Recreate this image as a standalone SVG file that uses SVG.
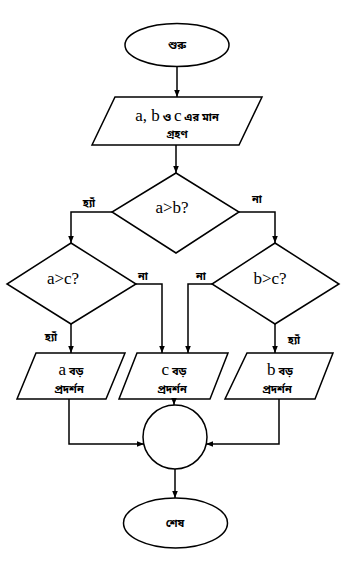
<svg xmlns="http://www.w3.org/2000/svg" width="355" height="566" viewBox="0 0 355 566">
<style>
.s{fill:#fff;stroke:#000;stroke-width:1.5}
.c{fill:none;stroke:#000;stroke-width:1.5;marker-end:url(#ah)}
.bn{font-family:"Noto Sans Bengali","Noto Serif Bengali","Lohit Bengali","FreeSerif","Noto Sans",sans-serif;font-weight:bold;font-size:11px;fill:#000}
.en{font-family:"Liberation Serif",serif;font-size:17px;fill:#000}
.t{text-anchor:middle}
</style>
<defs>
<marker id="ah" viewBox="0 0 10 10" refX="10" refY="5" markerWidth="7" markerHeight="7" markerUnits="userSpaceOnUse" orient="auto">
<path d="M0,1 L10,5 L0,9 Z" fill="#000"/>
</marker>
</defs>
<g id="start"><ellipse class="s" cx="177" cy="45" rx="52" ry="21.5"/><text class="bn t" x="177" y="49" font-size="12">শুরু</text></g>
<g id="input"><polygon class="s" points="115,97 262,97 239,145 92,145"/>
<text class="t" x="177" y="121"><tspan class="en" font-size="18">a, b</tspan><tspan class="bn" font-size="12"> ও </tspan><tspan class="en" font-size="18">c</tspan><tspan class="bn" font-size="12"> এর মান</tspan></text>
<text class="bn t" x="177" y="138" font-size="12">গ্রহণ</text></g>
<g id="d1"><polygon class="s" points="176,173 239,212 176,253 112,212"/><text class="en t" x="172" y="213">a&gt;b?</text></g>
<g id="d2"><polygon class="s" points="71,243 136,284 71,324 7,284"/><text class="en t" x="63" y="284">a&gt;c?</text></g>
<g id="d3"><polygon class="s" points="275,243 339,284 275,324 212,284"/><text class="en t" x="270" y="284">b&gt;c?</text></g>
<g id="outA"><polygon class="s" points="36,353 125,353 106,399 17,399"/>
<text class="t" x="71" y="375"><tspan class="en" font-size="19">a</tspan><tspan class="bn" font-size="12"> বড়</tspan></text>
<text class="bn t" x="69" y="393">প্রদর্শন</text></g>
<g id="outC"><polygon class="s" points="137,353 228,353 210,399 119,399"/>
<text class="t" x="174" y="375"><tspan class="en" font-size="19">c</tspan><tspan class="bn" font-size="12"> বড়</tspan></text>
<text class="bn t" x="172" y="393">প্রদর্শন</text></g>
<g id="outB"><polygon class="s" points="247,353 333,353 315,399 225,399"/>
<text class="t" x="280" y="375"><tspan class="en" font-size="19">b</tspan><tspan class="bn" font-size="12"> বড়</tspan></text>
<text class="bn t" x="277" y="393">প্রদর্শন</text></g>
<g id="join"><circle class="s" cx="175" cy="437" r="32"/></g>
<g id="end"><ellipse class="s" cx="175.5" cy="523" rx="52" ry="25"/><text class="bn t" x="175" y="527" font-size="12">শেষ</text></g>
<g id="connectors">
<path class="c" d="M177,67 V97"/>
<path class="c" d="M176,145 V173"/>
<path class="c" d="M112,212 H71 V243"/>
<path class="c" d="M239,212 H275 V243"/>
<path class="c" d="M136,284 H162 V353"/>
<path class="c" d="M212,284 H188 V353"/>
<path class="c" d="M71,324 V353"/>
<path class="c" d="M275,324 V353"/>
<path class="c" d="M174,399 V405"/>
<path class="c" d="M69,399 V444 H144"/>
<path class="c" d="M279,399 V444 H206"/>
<path class="c" d="M175,469 V498"/>
<text class="bn t" x="89" y="207">হ্যাঁ</text>
<text class="bn t" x="257" y="203">না</text>
<text class="bn t" x="143" y="280">না</text>
<text class="bn t" x="201" y="280">না</text>
<text class="bn t" x="51" y="341">হ্যাঁ</text>
<text class="bn t" x="294" y="344">হ্যাঁ</text>
</g>
</svg>
